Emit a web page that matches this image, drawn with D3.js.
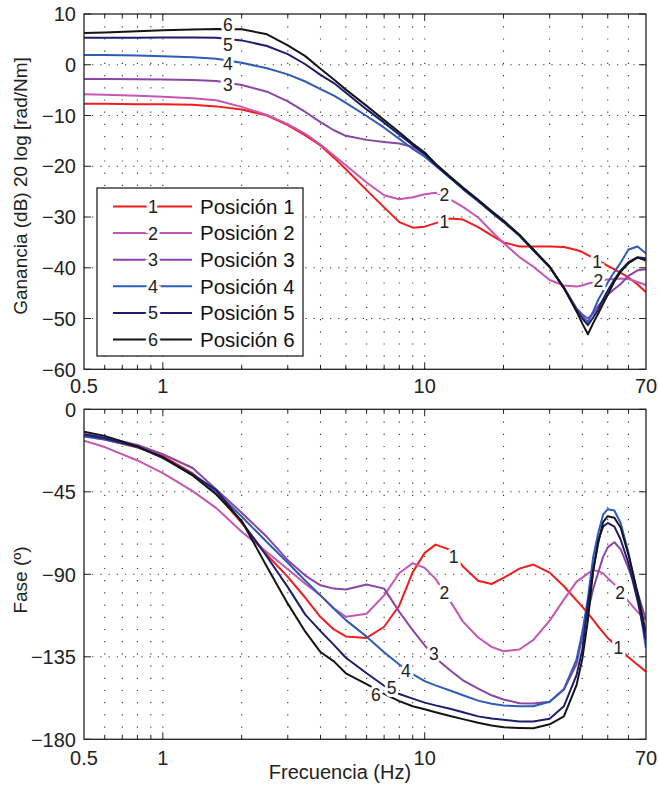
<!DOCTYPE html>
<html>
<head>
<meta charset="utf-8">
<script src="https://cdn.jsdelivr.net/npm/d3@7.9.0/dist/d3.min.js"></script>
<style>
  body { margin: 0; background: #fff; }
  svg { display: block; font-family: "Liberation Sans", Arial, sans-serif; }
</style>
</head>
<body>
<svg id="chart" width="658" height="788"></svg>
<script>
// frequency grid (Hz) shared by all curves
const freqs = [0.5, 0.6, 0.8, 1, 1.3, 1.6, 2, 2.5, 3, 3.5, 4, 4.5, 5, 6, 7, 8, 9, 10, 11, 12.5,
  14, 16, 18, 20, 23, 26, 30, 34, 38, 40, 42, 44, 46, 48, 50, 53, 56, 60, 65, 70];

// gain, dB
const gain1 = [-7.7, -7.7, -7.8, -7.8, -7.9, -8.2, -8.8, -10.0, -11.9, -13.9, -15.9, -18.3, -20.6, -24.7, -28.1, -31.0, -32.1, -31.9, -31.2, -30.3,
  -30.5, -32.0, -33.6, -35.0, -35.8, -35.8, -35.8, -35.9, -36.5, -36.9, -37.5, -38.0, -38.6, -39.1, -39.6, -40.3, -41.0, -41.9, -43.3, -44.8];
const gain2 = [-5.8, -5.9, -6.1, -6.3, -6.6, -7.0, -8.3, -9.9, -11.7, -13.6, -15.7, -17.9, -19.8, -23.2, -25.7, -26.5, -26.1, -25.5, -25.2, -26.5,
  -28.0, -30.1, -32.8, -35.1, -37.9, -39.8, -42.4, -43.5, -43.7, -43.5, -43.1, -42.9, -42.6, -42.4, -42.3, -42.2, -42.1, -42.2, -42.8, -43.4];
const gain3 = [-2.8, -2.8, -2.85, -2.9, -3.0, -3.2, -4.0, -5.3, -7.2, -9.3, -11.3, -12.9, -14.0, -14.8, -15.2, -15.5, -16.2, -17.6, -19.7, -22.2,
  -24.4, -26.8, -29.0, -30.9, -33.6, -36.5, -39.8, -43.9, -48.0, -49.2, -50.0, -49.0, -47.5, -46.4, -45.3, -44.2, -43.2, -41.6, -40.5, -40.3];
const gain4 = [1.9, 1.9, 1.8, 1.7, 1.5, 1.2, 0.4, -0.7, -1.9, -3.3, -4.8, -6.1, -7.5, -10.1, -12.4, -14.6, -16.6, -18.1, -19.9, -22.3,
  -24.5, -26.9, -29.1, -31.0, -33.7, -36.6, -39.9, -44.0, -48.1, -49.6, -50.7, -48.6, -46.3, -44.6, -42.9, -40.8, -39.0, -36.4, -35.8, -37.2];
const gain5 = [5.3, 5.3, 5.3, 5.35, 5.35, 5.3, 4.8, 3.7, 2.1, 0.1, -2.0, -3.6, -5.5, -8.8, -11.4, -13.8, -15.8, -17.6, -19.7, -22.2,
  -24.4, -26.8, -29.0, -30.9, -33.6, -36.5, -39.8, -43.9, -48.3, -50.0, -51.3, -49.8, -48.2, -46.2, -44.5, -42.3, -40.5, -38.9, -37.9, -38.1];
const gain6 = [6.25, 6.35, 6.6, 6.8, 6.95, 7.05, 7.0, 6.0, 3.8, 1.7, -0.8, -2.9, -4.9, -8.1, -10.9, -13.3, -15.5, -17.3, -19.5, -22.0,
  -24.2, -26.6, -28.8, -30.7, -33.5, -36.4, -39.8, -44.0, -48.6, -51.0, -53.1, -50.9, -49.0, -47.1, -45.3, -42.7, -40.8, -39.1, -38.0, -38.6];

// phase, degrees
const phase1 = [-14.5, -16.5, -20.8, -25.5, -35, -46, -62, -79.5, -91.4, -102.8, -113.3, -120.1, -123.9, -124.7, -118.6, -107, -88.8, -78.3, -73.8, -76.7,
  -85.7, -93.5, -95.3, -92.0, -86.9, -84.7, -89.1, -96.5, -104.2, -107.8, -111.3, -114.8, -118.5, -121.7, -124.7, -128.0, -131.2, -135.2, -139.3, -143.1];
const phase2 = [-17.1, -20.6, -27.9, -34.8, -44.6, -53.9, -66.8, -78, -87.2, -95.2, -101.6, -108.5, -113.2, -111.5, -101.5, -89.3, -83.9, -86.5, -92.5, -104.5,
  -115.8, -124.5, -129.6, -132.0, -131.0, -125.8, -115.3, -103.8, -94.0, -91.8, -89.5, -87.7, -88.3, -89.5, -92.1, -95.5, -99.3, -104.8, -110.5, -114.9];
const phase3 = [-13.5, -15.2, -19.5, -24.5, -32.0, -43.8, -56.4, -69.7, -82.3, -90.7, -96.0, -97.8, -98.3, -95.6, -97.8, -110.5, -120.5, -128.8, -135.6, -142.3,
  -147.8, -152.4, -156.0, -158.3, -160.3, -160.5, -159.5, -153, -139, -124, -110, -98, -89, -80.5, -75.3, -72.5, -76.3, -86.8, -100, -114.9];
const phase4 = [-14.8, -16.5, -20.5, -26.5, -36, -45, -58.5, -72.5, -83.7, -93.5, -101.5, -108.8, -115, -124, -132.5, -139.2, -144.5, -148.3, -150.6, -153.4,
  -156.0, -158.9, -160.6, -161.6, -162.0, -162.0, -159.5, -152.6, -136.5, -121.5, -103, -80.5, -67.5, -57.5, -54.5, -55.2, -62.0, -78.2, -101.3, -130.4];
const phase5 = [-13.8, -15.8, -20.5, -26.5, -35.5, -44, -61.4, -80.4, -97, -112, -121, -128.5, -135.5, -144.0, -150.8, -155.3, -157.8, -160.0, -161.5, -163.3,
  -165.2, -167.5, -168.7, -169.4, -170.3, -170.3, -168.8, -162, -145, -131, -106, -87.8, -71.4, -64, -62, -64, -71.0, -84, -104.5, -125.8];
const phase6 = [-12.2, -14.5, -20.2, -26.1, -36.1, -46.5, -60.8, -86, -106, -121.3, -132.4, -137.5, -144.0, -149.9, -155.2, -159.2, -162.0, -163.6, -165.2, -167.3,
  -169.0, -171.0, -172.5, -173.4, -173.8, -174.0, -171.8, -167.5, -150.5, -136, -115, -88, -73, -61.5, -58.3, -59.2, -64.5, -79.5, -100, -122.2];

const seriesNames = ['1', '2', '3', '4', '5', '6'];
const legendNames = ['Posición 1', 'Posición 2', 'Posición 3', 'Posición 4', 'Posición 5', 'Posición 6'];
const colors = ['#f21c1c', '#c656b6', '#8a45a6', '#2f5cb6', '#1d1d6e', '#151515'];

// inline curve labels: [series index, frequency where the number sits]
const gainLabelAt = [[0, 11.9], [0, 45.5], [1, 11.9], [1, 46], [2, 1.77], [3, 1.77], [4, 1.77], [5, 1.77]];
const phaseLabelAt = [[0, 12.9], [0, 54.9], [1, 11.9], [1, 55.7], [2, 10.85], [3, 8.48], [4, 7.48], [5, 6.51]];
// small vertical nudges (px) so the numbers sit as in the figure
const gainLabelNudge = [1.5, 1.4, -1.6, 0, 1.5, 3.5, 5.5, -4];
const phaseLabelNudge = [2, 0, 0, 2, -2, 1.4, -2.3, 5];

const xTickVals = [0.5, 1, 10, 70];
const xTickText = ['0.5', '1', '10', '70'];
const xGridVals = [0.6, 0.7, 0.8, 0.9, 1, 2, 3, 4, 5, 6, 7, 8, 9, 10, 20, 30, 40, 50, 60];
const gainTicks = [10, 0, -10, -20, -30, -40, -50, -60];
const phaseTicks = [0, -45, -90, -135, -180];

const svg = d3.select('#chart');
const fontSize = 20;

const x = d3.scaleLog().domain([0.5, 70]).range([84, 646]);
const left = 84, right = 646;

const panels = [
  { top: 14, bottom: 369.3, domain: [-60, 10], ticks: gainTicks,
    data: [gain1, gain2, gain3, gain4, gain5, gain6], labels: gainLabelAt, nudge: gainLabelNudge,
    ylabel: 'Ganancia (dB) 20 log [rad/Nm]', ylabelY: 186, xlabBase: 393 },
  { top: 409.3, bottom: 739.3, domain: [-180, 0], ticks: phaseTicks,
    data: [phase1, phase2, phase3, phase4, phase5, phase6], labels: phaseLabelAt, nudge: phaseLabelNudge,
    ylabel: 'Fase (º)', ylabelY: 580, xlabBase: 765 }
];

const fmt = v => (v < 0 ? '\u2212' + Math.abs(v) : String(v));

panels.forEach((p, pi) => {
  const y = d3.scaleLinear().domain(p.domain).range([p.bottom, p.top]);
  const g = svg.append('g');

  const clipId = 'clip' + pi;
  svg.append('clipPath').attr('id', clipId)
    .append('rect').attr('x', left).attr('y', p.top)
    .attr('width', right - left).attr('height', p.bottom - p.top);

  // dotted grid
  g.selectAll('.vgrid').data(xGridVals).enter().append('line')
    .attr('x1', d => x(d)).attr('x2', d => x(d))
    .attr('y1', p.top).attr('y2', p.bottom)
    .attr('stroke', '#333').attr('stroke-width', 1.1)
    .attr('stroke-dasharray', '1.2,11');
  g.selectAll('.hgrid').data(p.ticks.slice(1, -1)).enter().append('line')
    .attr('x1', left).attr('x2', right)
    .attr('y1', d => y(d)).attr('y2', d => y(d))
    .attr('stroke', '#333').attr('stroke-width', 1.1)
    .attr('stroke-dasharray', '1.2,7');

  // curves
  const line = d3.line().x(d => x(d[0])).y(d => y(d[1]));
  const curves = g.append('g').attr('clip-path', `url(#${clipId})`);
  p.data.forEach((vals, i) => {
    curves.append('path')
      .datum(freqs.map((f, k) => [f, vals[k]]))
      .attr('fill', 'none')
      .attr('stroke', colors[i])
      .attr('stroke-width', 2)
      .attr('stroke-linejoin', 'round')
      .attr('d', line);
  });

  // inline numbers on the curves
  p.labels.forEach(([si, f], li) => {
    const interp = d3.scaleLinear().domain(freqs.map(Math.log10)).range(p.data[si]);
    g.append('text')
      .attr('x', x(f)).attr('y', y(interp(Math.log10(f))) + p.nudge[li])
      .attr('dy', '0.36em')
      .attr('text-anchor', 'middle')
      .attr('font-size', 17.5)
      .attr('fill', '#222')
      .attr('stroke', '#fff').attr('stroke-width', 6)
      .attr('paint-order', 'stroke')
      .text(seriesNames[si]);
  });

  // box
  g.append('rect').attr('x', left).attr('y', p.top)
    .attr('width', right - left).attr('height', p.bottom - p.top)
    .attr('fill', 'none').attr('stroke', '#222').attr('stroke-width', 1.3);

  // y ticks, inward on both sides
  p.ticks.forEach(t => {
    g.append('line').attr('x1', left).attr('x2', left + 7)
      .attr('y1', y(t)).attr('y2', y(t)).attr('stroke', '#222');
    g.append('line').attr('x1', right - 7).attr('x2', right)
      .attr('y1', y(t)).attr('y2', y(t)).attr('stroke', '#222');
    g.append('text').attr('x', 76).attr('y', y(t)).attr('dy', '0.36em')
      .attr('text-anchor', 'end').attr('font-size', fontSize).attr('fill', '#222')
      .text(fmt(t));
  });

  // x ticks (major 1, 10; minor the rest), inward at bottom and top
  xGridVals.forEach(f => {
    const len = (f === 1 || f === 10) ? 7 : 4.5;
    g.append('line').attr('x1', x(f)).attr('x2', x(f))
      .attr('y1', p.bottom).attr('y2', p.bottom - len).attr('stroke', '#222');
    g.append('line').attr('x1', x(f)).attr('x2', x(f))
      .attr('y1', p.top).attr('y2', p.top + len).attr('stroke', '#222');
  });
  xTickVals.forEach((f, i) => {
    g.append('text').attr('x', x(f)).attr('y', p.xlabBase)
      .attr('text-anchor', 'middle').attr('font-size', fontSize).attr('fill', '#222')
      .text(xTickText[i]);
  });

  // y label
  g.append('text')
    .attr('transform', `translate(27,${p.ylabelY}) rotate(-90)`)
    .attr('text-anchor', 'middle').attr('font-size', 19).attr('fill', '#222')
    .text(p.ylabel);
});

// x label
svg.append('text').attr('x', 340).attr('y', 779)
  .attr('text-anchor', 'middle').attr('font-size', fontSize).attr('fill', '#222')
  .text('Frecuencia (Hz)');

// legend
const lg = svg.append('g');
lg.append('rect').attr('x', 97).attr('y', 188).attr('width', 206).attr('height', 168)
  .attr('fill', '#fff').attr('stroke', '#222').attr('stroke-width', 1.3);
seriesNames.forEach((name, i) => {
  const cy = 206.5 + i * 26.6;
  lg.append('line').attr('x1', 113).attr('x2', 192).attr('y1', cy).attr('y2', cy)
    .attr('stroke', colors[i]).attr('stroke-width', 2);
  lg.append('text').attr('x', 153).attr('y', cy).attr('dy', '0.36em')
    .attr('text-anchor', 'middle').attr('font-size', 18).attr('fill', '#222')
    .attr('stroke', '#fff').attr('stroke-width', 6).attr('paint-order', 'stroke')
    .text(name);
  lg.append('text').attr('x', 200).attr('y', cy).attr('dy', '0.36em')
    .attr('font-size', 20.5).attr('fill', '#111')
    .text(legendNames[i]);
});
</script>
</body>
</html>
